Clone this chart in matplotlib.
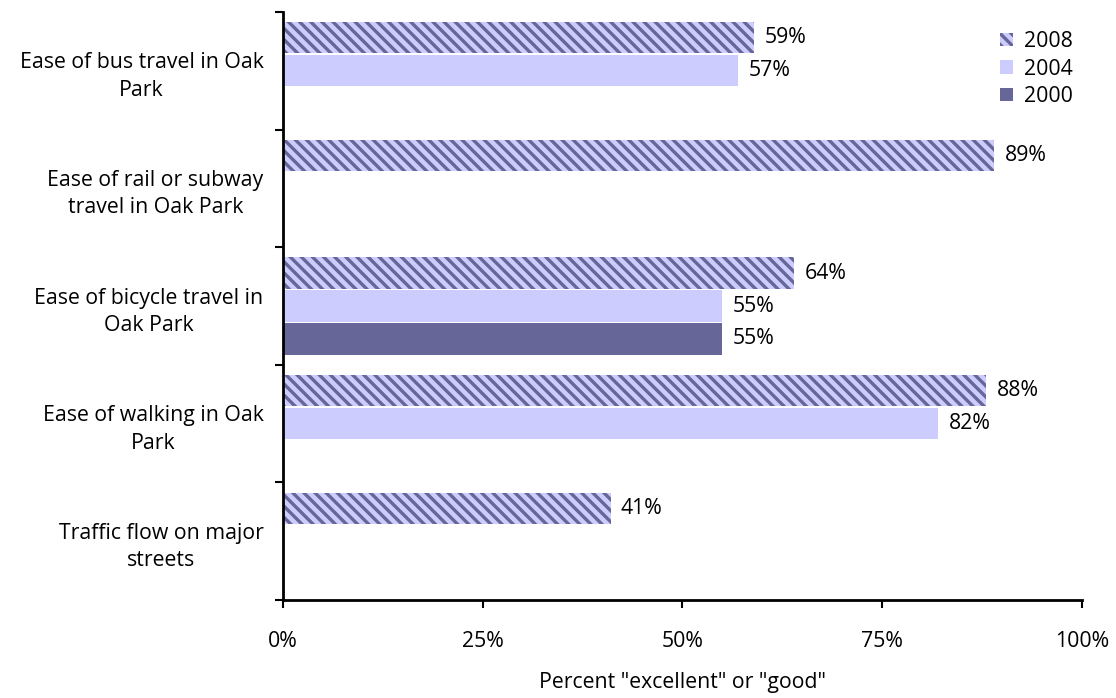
import matplotlib
matplotlib.use("Agg")
import matplotlib.pyplot as plt
import numpy as np

categories = [
    "Ease of bus travel in Oak\nPark",
    "Ease of rail or subway\ntravel in Oak Park",
    "Ease of bicycle travel in\nOak Park",
    "Ease of walking in Oak\nPark",
    "Traffic flow on major\nstreets",
]
years = ["2008", "2004", "2000"]
values_2008 = [59, 89, 64, 88, 41]
values_2004 = [57, None, 55, 82, None]
values_2000 = [None, None, 55, None, None]
xticks = [0, 25, 50, 75, 100]

plt.rcParams['font.family'] = ['Open Sans', 'DejaVu Sans']
plt.rcParams['hatch.linewidth'] = 2.4

LIGHT = "#ccccff"
DARK = "#666699"
FS = 15.3

fig = plt.figure(figsize=(11.16, 6.98), dpi=100)
ax = fig.add_axes([0.2536, 0.1404, 0.7159, 0.8424])

series = [values_2008, values_2004, values_2000]
step = 0.28
height = 0.265
y = np.arange(len(categories))

handles = []
for i, (vals, yr) in enumerate(zip(series, years)):
    off = (i - 1) * step
    pos = [yy + off for yy, v in zip(y, vals) if v is not None]
    w = [v for v in vals if v is not None]
    if i == 0:
        b = ax.barh(pos, w, height=height, color=LIGHT, edgecolor=DARK,
                    linewidth=0, hatch="\\\\\\", label=yr)
    elif i == 1:
        b = ax.barh(pos, w, height=height, color=LIGHT, linewidth=0, label=yr)
    else:
        b = ax.barh(pos, w, height=height, color=DARK, linewidth=0, label=yr)
    handles.append(b)
    for p, v in zip(pos, w):
        ax.text(v + 1.3, p, f"{v}%", va="center", ha="left", fontsize=FS)

ax.set_xlim(0, 100)
ax.set_ylim(len(categories) - 0.5, -0.5)
ax.set_xticks(xticks)
ax.set_xticklabels([f"{t}%" for t in xticks], fontsize=FS)
ax.tick_params(axis="x", direction="out", length=6, width=1.5, pad=16)

ax.set_yticks(np.arange(len(categories) + 1) - 0.5)
ax.set_yticklabels([])
ax.set_yticks(y, minor=True)
ax.set_yticklabels(categories, minor=True, fontsize=FS, multialignment="center",
                   linespacing=1.4)
ax.tick_params(axis="y", which="major", direction="out", length=6, width=1.5)
ax.tick_params(axis="y", which="minor", length=0, pad=14)

for s in ["top", "right"]:
    ax.spines[s].set_visible(False)
for s in ["left", "bottom"]:
    ax.spines[s].set_linewidth(2)

ax.set_xlabel('Percent "excellent" or "good"', fontsize=FS, labelpad=15)

leg = ax.legend(handles=handles, loc="upper right", bbox_to_anchor=(1.012, 1.0),
                frameon=False, fontsize=FS, handlelength=0.6, handleheight=0.6,
                handletextpad=0.5, labelspacing=0.3)

fig.savefig("out.png", dpi=100)
